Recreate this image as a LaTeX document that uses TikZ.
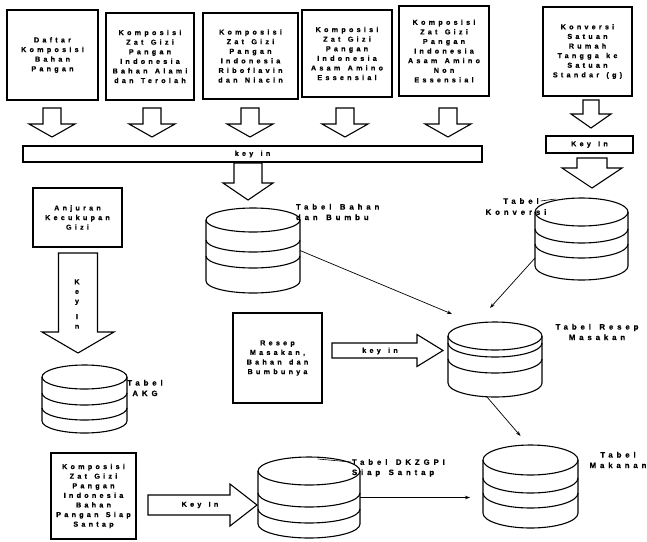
\documentclass[tikz,border=0pt]{standalone}
\usepackage{fontspec}
\newfontfamily\bxf{Liberation Sans}[LetterSpace=45, FakeBold=0.6, WordSpace=1.4]
\newfontfamily\lbf{Liberation Sans}[LetterSpace=50, FakeBold=0.6, WordSpace=1.4]
\usetikzlibrary{arrows.meta}
\newcommand\hdown[6]{\draw[hollow] (#1-#2,#4) -- (#1+#2,#4) -- (#1+#2,#5) -- (#1+#3,#5) -- (#1,#6) -- (#1-#3,#5) -- (#1-#2,#5) -- cycle;}
\newcommand\hright[6]{\draw[hollow] (#4,#1-#2) -- (#5,#1-#2) -- (#5,#1-#3) -- (#6,#1) -- (#5,#1+#3) -- (#5,#1+#2) -- (#4,#1+#2) -- cycle;}
\newcommand\cyl[8]{%
  \draw[ln] (#2,#3) ellipse [x radius=#4pt, y radius=#5pt];
  \draw[ln] (#2-#4,#3) -- (#2-#4,#8) arc[start angle=180, end angle=360, x radius=#4pt, y radius=#5pt] -- (#2+#4,#3);
  \draw[ln] (#2-#4,#6) arc[start angle=180, end angle=360, x radius=#4pt, y radius=#5pt];
  \draw[ln] (#2-#4,#7) arc[start angle=180, end angle=360, x radius=#4pt, y radius=#5pt];
  \node[minimum width={2*#4pt}, minimum height={(#8-#3+2*#5)*1pt}] (#1) at (#2,{(#3+#8)/2}) {};}
\begin{document}
\begin{tikzpicture}[x=1pt,y=-1pt,
  every node/.style={inner sep=0pt, outer sep=0pt},
  ln/.style={line width=1.1pt},
  box/.style={draw, line width=1.1pt, align=center, font=\bxf\bfseries\fontsize{7.2}{9.6}\selectfont},
  lbl/.style={align=center, font=\lbf\bfseries\fontsize{7.8}{10.5}\selectfont},
  txt/.style={font=\bxf\bfseries\fontsize{7.2}{9.6}\selectfont},
  conn/.style={line width=0.7pt, -{Stealth[length=5pt,width=3.5pt]}},
  hollow/.style={draw, line width=1.1pt, fill=white, line join=miter}]
\useasboundingbox (0,0) rectangle (647,541);

% top boxes
\node[box, minimum width=91pt, minimum height=90pt] (b1) at (52.5,55) {Daftar\\Komposisi\\Bahan\\Pangan};
\node[box, minimum width=88pt, minimum height=87pt] (b2) at (150,56.5) {Komposisi\\Zat Gizi\\Pangan\\Indonesia\\Bahan Alami\\dan Terolah};
\node[box, minimum width=95pt, minimum height=86pt] (b3) at (250.5,56) {Komposisi\\Zat Gizi\\Pangan\\Indonesia\\Riboflavin\\dan Niacin};
\node[box, minimum width=90pt, minimum height=87pt] (b4) at (347,53.5) {Komposisi\\Zat Gizi\\Pangan\\Indonesia\\Asam Amino\\Essensial};
\node[box, minimum width=90pt, minimum height=90pt] (b5) at (444,51) {Komposisi\\Zat Gizi\\Pangan\\Indonesia\\Asam Amino\\Non\\Essensial};
\node[box, minimum width=89pt, minimum height=89pt] (b6) at (587.5,51.5) {Konversi\\Satuan\\Rumah\\Tangga ke\\Satuan\\Standar (g)};

% hollow arrows below top boxes
\hdown{52}{9}{23}{108}{124}{137}
\hdown{152}{9}{23}{108}{124}{137}
\hdown{250}{9}{23}{108}{124}{137}
\hdown{345}{9}{23}{108}{124}{137}
\hdown{448}{9}{23}{108}{124}{137}
\hdown{591}{8}{20}{100}{114}{128}

% key in bars
\node[box, minimum width=459pt, minimum height=16pt] (bar) at (252.5,154) {key in};
\node[box, minimum width=87pt, minimum height=17pt] (kbox) at (589.5,144.5) {Key In};
\hdown{248}{14}{25}{163}{183}{200}
\hdown{592}{15}{30}{158}{168}{188}

% Anjuran box and vertical Key In arrow
\node[box, minimum width=89pt, minimum height=59pt] (akg0) at (77.5,217.5) {Anjuran\\Kecukupan\\Gizi};
\hdown{78}{19.5}{36}{253}{332}{353}
\node[txt, align=center] (vk) at (77,304) {K\\e\\y\\[6pt]I\\n};

% cylinders
\cyl{bahan}{253}{220}{47}{12}{240}{256}{281}
\cyl{konv}{581.5}{212}{46.5}{14}{229}{244}{266}
\cyl{resep}{495}{336}{47}{14}{343}{359}{383}
\cyl{akg}{84.5}{377}{42.5}{12}{393}{408}{421}
\cyl{dk}{309}{471}{51}{14}{493}{509}{524}
\cyl{mkn}{530.5}{460}{47.5}{15}{478}{493}{513}

% cylinder labels
\node[lbl, align=left, anchor=west] (bahanlbl) at (296,212) {Tabel Bahan\\dan Bumbu};
\node[lbl] (konvlbl1) at (521,201) {Tabel};
\node[lbl] (konvlbl2) at (516,212) {Konversi};
\draw[line width=0.6pt] ([xshift=2pt]konvlbl1.east) -- ([xshift=-26pt,yshift=-1pt]konv.north);
\node[lbl] (reseplbl) at (597,332) {Tabel Resep\\Masakan};
\node[lbl] (akglbl) at (145,388) {Tabel\\AKG};
\node[lbl, anchor=west] (dklbl1) at (352,462) {Tabel DKZGPI};
\node[lbl, anchor=west] (dklbl2) at (352,473) {Siap Santap};
\draw[line width=0.6pt] ([xshift=9pt,yshift=-2pt]dk.north) -- ([xshift=-1pt]dklbl1.west);
\node[lbl] (mknlbl) at (618,460) {Tabel\\Makanan};

% Resep box and key in arrow
\node[box, minimum width=89pt, minimum height=90pt] (rbox) at (277.5,358) {Resep\\Masakan,\\Bahan dan\\Bumbunya};
\hright{350.5}{7.5}{16}{332}{417}{443}
\node[txt] (kin2) at (380,351) {key in};

% bottom box and Key In arrow
\node[box, minimum width=85pt, minimum height=86pt] (sbox) at (93.5,496) {Komposisi\\Zat Gizi\\Pangan\\Indonesia\\Bahan\\Pangan Siap\\Santap};
\hright{505}{10}{21}{148}{230}{257}
\node[txt] (kin3) at (200,505) {Key In};

% connectors
\draw[conn] (bahan.east) -- ([xshift=4pt,yshift=8pt]resep.north west);
\draw[conn] ([yshift=-19pt]konv.west) -- ([xshift=-5pt,yshift=14pt]resep.north);
\draw[conn] ([xshift=-8pt]resep.south) -- ([xshift=-10pt,yshift=9pt]mkn.north);
\coordinate (mkin) at ([xshift=-13pt]mkn.west);
\draw[conn] (dk.east) -- (mkin |- dk.east);
\end{tikzpicture}
\end{document}
